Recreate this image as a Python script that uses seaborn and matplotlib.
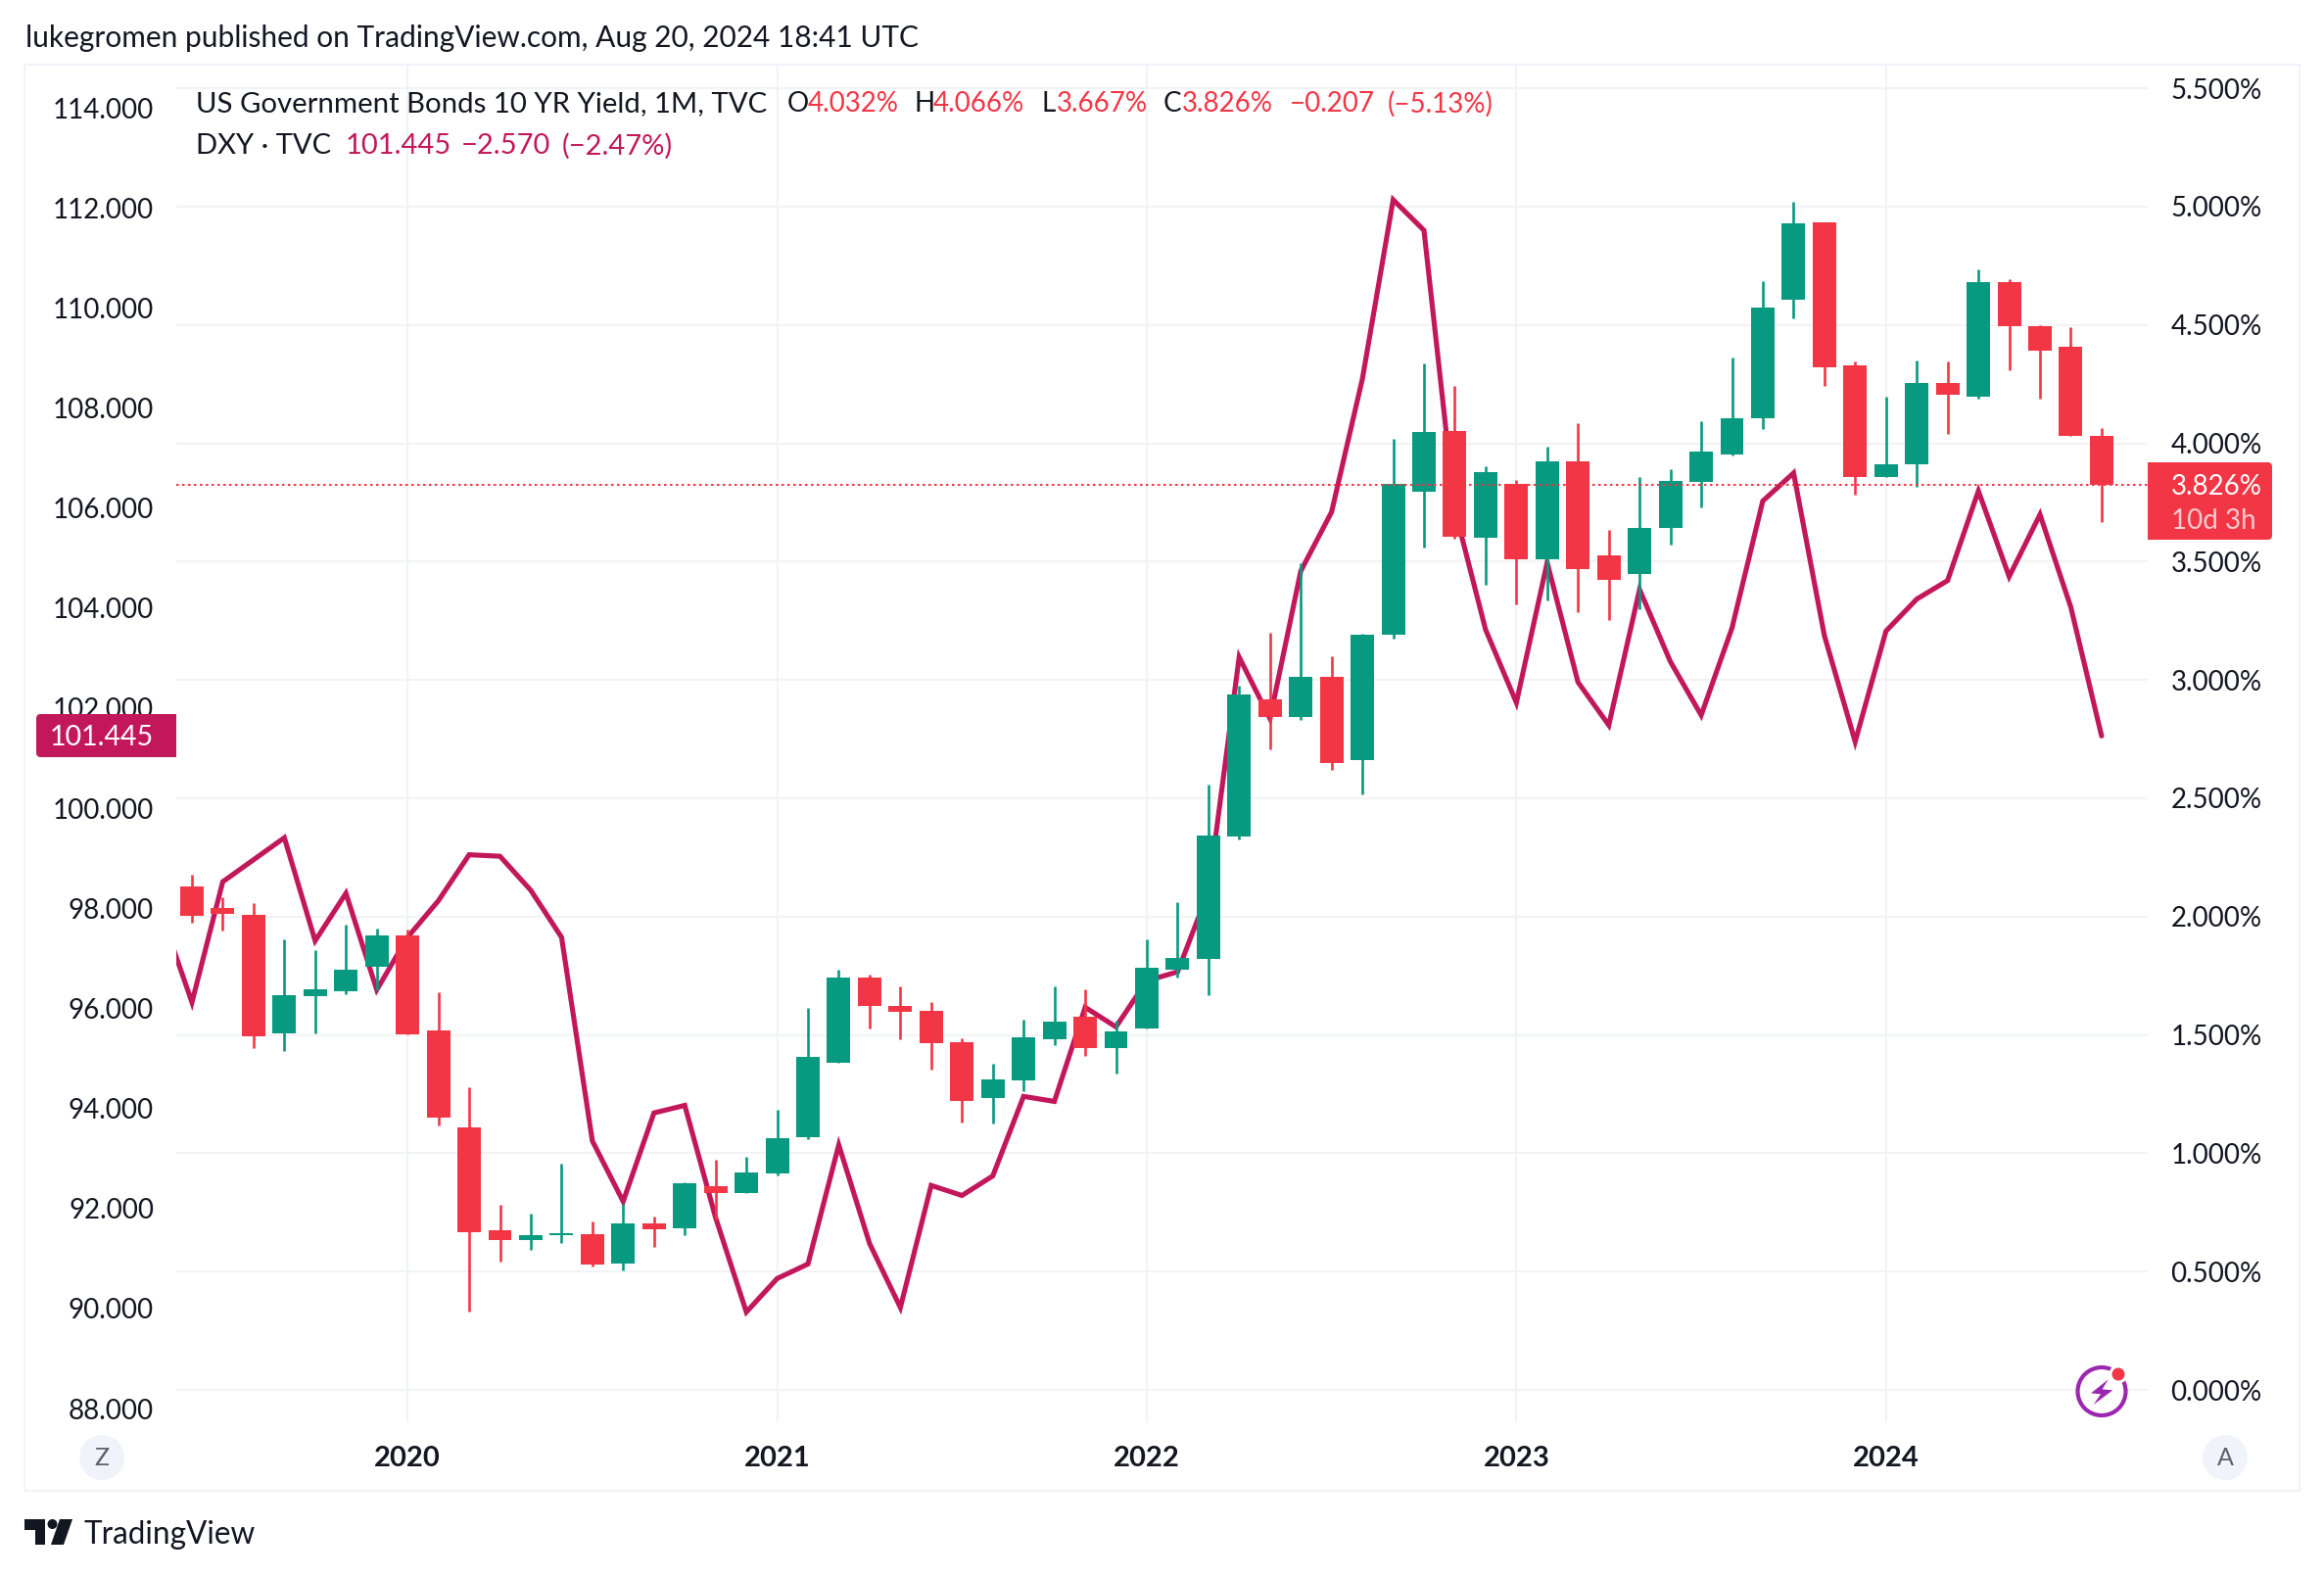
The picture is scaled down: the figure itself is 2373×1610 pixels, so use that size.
#!/usr/bin/env python3
import matplotlib
matplotlib.use("Agg")
import matplotlib.pyplot as plt
from matplotlib.patches import Circle, FancyBboxPatch, Polygon, Rectangle
import numpy as np
import pandas as pd
import seaborn as sns

W, H = 2373, 1610
PLOT_L, PLOT_R, PLOT_T, PLOT_B = 180, 2193, 66, 1452

months = pd.date_range("2019-06-01", periods=63, freq="MS")

yield_open = [2.127, 2.035, 2.007, 1.506, 1.663, 1.683, 1.787, 1.920, 1.518, 1.108, 0.673, 0.632, 0.652, 0.657, 0.533, 0.703,
              0.682, 0.859, 0.834, 0.914, 1.067, 1.382, 1.743, 1.621, 1.601, 1.469, 1.233, 1.308, 1.483, 1.578, 1.446, 1.529,
              1.776, 1.821, 2.338, 2.920, 2.842, 3.015, 2.660, 3.193, 3.797, 4.054, 3.602, 3.830, 3.508, 3.922, 3.525, 3.446,
              3.641, 3.835, 3.954, 4.104, 4.608, 4.935, 4.328, 3.859, 3.910, 4.253, 4.196, 4.682, 4.497, 4.410, 4.032]
yield_high = [2.177, 2.081, 2.056, 1.904, 1.858, 1.966, 1.950, 1.945, 1.680, 1.278, 0.781, 0.744, 0.956, 0.710, 0.787, 0.731,
              0.876, 0.972, 0.984, 1.183, 1.614, 1.775, 1.754, 1.704, 1.639, 1.486, 1.378, 1.565, 1.707, 1.694, 1.561, 1.904,
              2.061, 2.557, 2.978, 3.201, 3.495, 3.102, 3.197, 4.017, 4.336, 4.244, 3.905, 3.847, 3.984, 4.087, 3.636, 3.859,
              3.889, 4.092, 4.361, 4.687, 5.022, 4.935, 4.348, 4.195, 4.351, 4.348, 4.736, 4.695, 4.500, 4.492, 4.066]
yield_low = [1.973, 1.941, 1.444, 1.432, 1.506, 1.672, 1.689, 1.501, 1.117, 0.331, 0.541, 0.590, 0.620, 0.521, 0.504, 0.604,
             0.652, 0.720, 0.834, 0.905, 1.059, 1.382, 1.527, 1.481, 1.352, 1.129, 1.125, 1.263, 1.458, 1.413, 1.338, 1.529,
             1.742, 1.668, 2.325, 2.705, 2.833, 2.618, 2.515, 3.176, 3.561, 3.598, 3.403, 3.321, 3.335, 3.285, 3.252, 3.298,
             3.570, 3.728, 3.949, 4.059, 4.530, 4.244, 3.782, 3.859, 3.817, 4.038, 4.188, 4.310, 4.190, 4.030, 3.667]
yield_close = [2.003, 2.012, 1.495, 1.667, 1.692, 1.775, 1.920, 1.501, 1.149, 0.667, 0.632, 0.652, 0.661, 0.528, 0.703, 0.678,
               0.873, 0.834, 0.917, 1.062, 1.407, 1.743, 1.621, 1.598, 1.464, 1.221, 1.311, 1.490, 1.557, 1.446, 1.515, 1.782,
               1.825, 2.342, 2.937, 2.842, 3.015, 2.647, 3.193, 3.830, 4.050, 3.606, 3.880, 3.508, 3.922, 3.467, 3.421, 3.644,
               3.843, 3.964, 4.108, 4.574, 4.930, 4.323, 3.859, 3.913, 4.253, 4.204, 4.682, 4.497, 4.392, 4.030, 3.826]

# first value is May 2019, only just visible at the left edge
dxy_close = [97.9, 96.12, 98.53, 98.97, 99.41, 97.35, 98.30, 96.37, 97.42, 98.15, 99.07, 99.04, 98.36, 97.42, 93.35, 92.14,
             93.91, 94.06, 91.82, 89.93, 90.60, 90.89, 93.27, 91.30, 90.02, 92.46, 92.26, 92.65, 94.24, 94.14, 96.02, 95.63,
             96.55, 96.73, 98.33, 103.02, 101.79, 104.74, 105.92, 108.58, 112.16, 111.55, 105.97, 103.57, 102.11, 104.91,
             102.52, 101.66, 104.37, 102.93, 101.86, 103.60, 106.14, 106.70, 103.45, 101.33, 103.54, 104.18, 104.55, 106.34,
             104.63, 105.87, 104.02, 101.445]

yield_ticks = [0, 0.5, 1, 1.5, 2, 2.5, 3, 3.5, 4, 4.5, 5, 5.5]
dxy_ticks = [88, 90, 92, 94, 96, 98, 100, 102, 104, 106, 108, 110, 112, 114]
last_yield = 3.826
last_dxy = 101.445

RED = "#F23645"
GREEN = "#089981"
LINE = "#C2185B"
GRID = "#F2F3F5"
BORDER = "#F0F3FA"
INK = "#131722"
FONT = "Lato"
SIZE = 20


def plot_rect():
    return [PLOT_L / W, 1 - PLOT_B / H, (PLOT_R - PLOT_L) / W, (PLOT_B - PLOT_T) / H]


def y_limits(zero_px, px_per_unit, zero_value=0.0):
    return zero_value - (PLOT_B - zero_px) / px_per_unit, zero_value + (zero_px - PLOT_T) / px_per_unit


sns.set_theme(style="white")
plt.rcParams["font.family"] = [FONT, "DejaVu Sans"]

fig = plt.figure(figsize=(W / 100, H / 100), dpi=100, facecolor="white")
x_pos = np.arange(len(months))
x_limits = ((PLOT_L - 196) / 31.45, (PLOT_R - 196) / 31.45)
year_pos = x_pos[months.month == 1]

ax_grid = fig.add_axes(plot_rect(), zorder=0)
ax_dxy = fig.add_axes(plot_rect(), zorder=1)
ax_yield = fig.add_axes(plot_rect(), zorder=2)
overlay = fig.add_axes([0, 0, 1, 1], zorder=3)

# gridlines sit under everything
ax_grid.set_xlim(*x_limits)
ax_grid.set_ylim(*y_limits(1419, 241.6))
ax_grid.hlines(yield_ticks, *x_limits, color=GRID, lw=1.5)
ax_grid.vlines(year_pos, *ax_grid.get_ylim(), color=GRID, lw=1.5)
ax_grid.set_xticks(year_pos)
ax_grid.set_xticklabels(months[year_pos].year, fontsize=21, fontweight="bold", color=INK)
ax_grid.set_yticks([])
ax_grid.tick_params(axis="x", length=0, pad=17.5)
sns.despine(ax=ax_grid, left=True, bottom=True)

# DXY line, on the left price scale
sns.lineplot(x=np.arange(-1, len(months)), y=dxy_close, ax=ax_dxy, color=LINE, lw=3.7,
             errorbar=None, solid_joinstyle="miter")
ax_dxy.set_xlim(*x_limits)
ax_dxy.set_ylim(*y_limits(110, 51.08, 114))
ax_dxy.patch.set_alpha(0)
ax_dxy.set_xticks([])
ax_dxy.set_yticks(dxy_ticks)
ax_dxy.set_yticklabels([f"{v:.3f}" for v in dxy_ticks], fontsize=SIZE, color=INK)
ax_dxy.tick_params(axis="y", length=0, pad=16.5)
sns.despine(ax=ax_dxy, left=True, bottom=True)

# yield candles, on the right price scale
colors = [GREEN if c >= o else RED for o, c in zip(yield_open, yield_close)]
bottoms = np.minimum(yield_open, yield_close)
heights = np.abs(np.array(yield_close) - np.array(yield_open))
ax_yield.vlines(x_pos, yield_low, yield_high, colors=colors, lw=1.9)
ax_yield.bar(x_pos, heights, bottom=bottoms, width=0.763, color=colors, linewidth=0)
ax_yield.axhline(last_yield, color=RED, lw=1.44, linestyle=(0, (1.25, 1.75)))
ax_yield.set_xlim(*x_limits)
ax_yield.set_ylim(*y_limits(1419, 241.6))
ax_yield.patch.set_alpha(0)
ax_yield.set_xticks([])
ax_yield.yaxis.tick_right()
ax_yield.set_yticks(yield_ticks)
ax_yield.set_yticklabels([f"{v:.3f}%" for v in yield_ticks], fontsize=SIZE, color=INK)
ax_yield.tick_params(axis="y", length=0, pad=17)
sns.despine(ax=ax_yield, left=True, bottom=True, right=True)

# everything else is chrome, placed in figure pixels
overlay.set_xlim(0, W)
overlay.set_ylim(H, 0)
overlay.axis("off")
overlay.patch.set_alpha(0)


def label(x, y, text, color=INK, size=SIZE, **kw):
    kw.setdefault("ha", "left")
    overlay.text(x, y, text, color=color, fontsize=size, va="center", **kw)


overlay.add_patch(Rectangle((25, 66), 2322.5, 1455.5, fill=False, ec=BORDER, lw=1.5))

label(26, 39, "lukegromen published on TradingView.com, Aug 20, 2024 18:41 UTC", size=21.5)
label(200, 106, "US Government Bonds 10 YR Yield, 1M, TVC", size=21.2)
label(804, 106, "O")
label(825, 106, "4.032%", RED)
label(934, 106, "H")
label(953, 106, "4.066%", RED)
label(1063, 106, "L")
label(1079, 106, "3.667%", RED)
label(1188, 106, "C")
label(1207, 106, "3.826%", RED)
label(1317, 106, "\u22120.207", RED)
label(1417, 106, "(\u22125.13%)", RED)
label(200, 149, "DXY \u00b7 TVC", size=21)
label(353, 149, f"{last_dxy:.3f}", LINE, size=21)
label(471, 149, "\u22122.570", LINE, size=21)
label(574, 149, "(\u22122.47%)", LINE, size=21)

# last price tags
overlay.add_patch(FancyBboxPatch((41, 733), 120, 36, boxstyle="round,pad=0,rounding_size=0", fc=LINE, ec=LINE, lw=8 * 0.72, joinstyle="round"))
overlay.add_patch(Rectangle((150, 729), 30, 44, fc=LINE, ec="none"))
label(157, 753, f"{last_dxy:.3f}", "white", ha="right", size=20.5)
overlay.add_patch(FancyBboxPatch((2197, 476), 119, 71, boxstyle="round,pad=0,rounding_size=0", fc=RED, ec=RED, lw=8 * 0.72, joinstyle="round"))
overlay.add_patch(Rectangle((2193, 472), 40, 79, fc=RED, ec="none"))
label(2217, 497, f"{last_yield:.3f}%", "white")
label(2217, 532, "10d 3h", "white", alpha=0.75)

# zoom and auto buttons
for cx, letter in [(104, "Z"), (2272, "A")]:
    overlay.add_patch(Circle((cx, 1488), 23, fc=BORDER, ec="none"))
    label(cx, 1488, letter, "#5D606B", size=18, ha="center")

# lightning badge
overlay.add_patch(Circle((2146, 1420.5), 24.5, fc="white", ec="#9C27B0", lw=3))
bolt = [(308, 145), (255, 187), (285, 190), (263, 222), (322, 178), (290, 175)]
overlay.add_patch(Polygon([(2050 + x / 3, 1360 + y / 3) for x, y in bolt], fc="#9C27B0", ec="none"))
overlay.add_patch(Circle((2163, 1403), 9.5, fc="white", ec="none"))
overlay.add_patch(Circle((2163, 1403), 6.5, fc=RED, ec="none"))

# TradingView logo
logo_t = [(25, 1551), (46, 1551), (46, 1577), (36, 1577), (36, 1562), (25, 1562)]
logo_v = [(74, 1551), (61, 1551), (52, 1577), (65, 1577)]
overlay.add_patch(Polygon(logo_t, fc=INK, ec="none"))
overlay.add_patch(Polygon(logo_v, fc=INK, ec="none"))
overlay.add_patch(Circle((53.5, 1556), 5, fc=INK, ec="none"))
label(85, 1567, "TradingView", size=22.7)

plt.savefig("out.png", dpi=100)
